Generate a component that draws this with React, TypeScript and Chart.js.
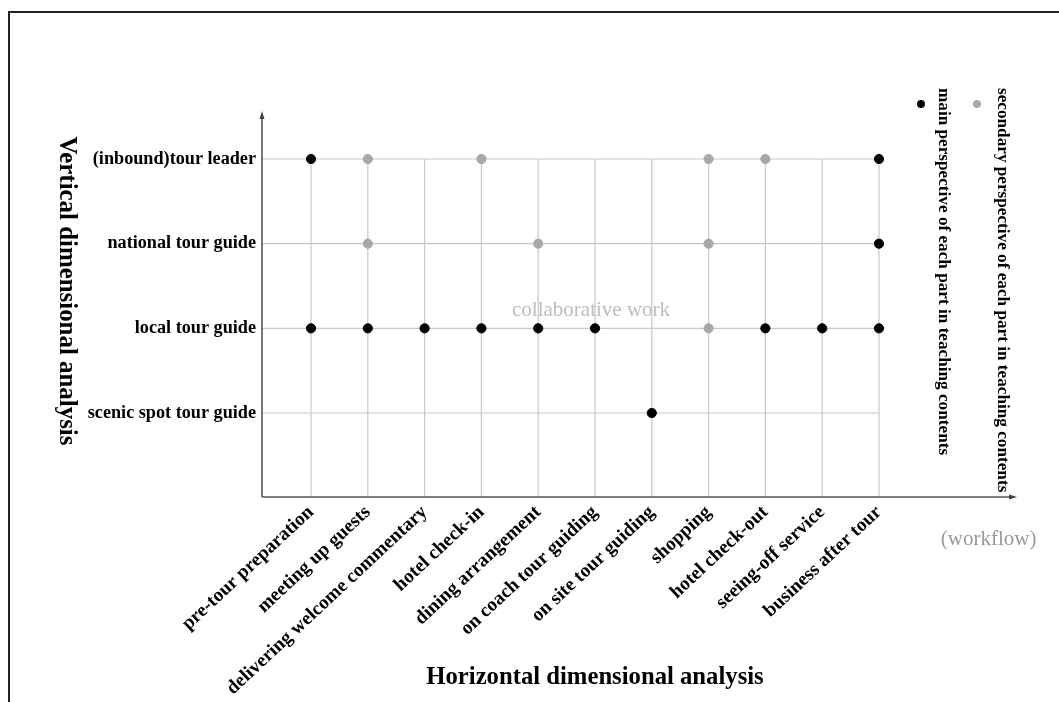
import React, { useEffect, useRef } from 'react';
import { Chart, registerables } from 'chart.js';

Chart.register(...registerables);

const SERIF = '"Liberation Serif", "Times New Roman", serif';

// Horizontal dimension (workflow stages), index 0..10
const stages = [
  'pre-tour preparation',
  'meeting up guests',
  'delivering welcome commentary',
  'hotel check-in',
  'dining arrangement',
  'on coach tour guiding',
  'on site tour guiding',
  'shopping',
  'hotel check-out',
  'seeing-off service',
  'business after tour',
];

// Vertical dimension (roles), index 0 = bottom row
const roles = [
  'scenic spot tour guide',
  'local tour guide',
  'national tour guide',
  '(inbound)tour leader',
];

// Stage indices per role: main (black) and secondary (gray) perspectives
const tourLeaderMain = [0, 10];
const tourLeaderSecondary = [1, 3, 7, 8];
const nationalMain = [10];
const nationalSecondary = [1, 4, 7];
const localMain = [0, 1, 2, 3, 4, 5, 8, 9, 10];
const localSecondary = [7];
const scenicMain = [6];
const scenicSecondary: number[] = [];

const xTitle = 'Horizontal dimensional analysis';
const yTitle = 'Vertical dimensional analysis';
const xUnit = '(workflow)';
const centerNote = 'collaborative work';
const mainLabel = 'main perspective of each part in teaching contents';
const secondaryLabel = 'secondary perspective of each part in teaching contents';

const MAIN_COLOR = '#000000';
const SECONDARY_COLOR = '#a8a8a8';

function toPoints(stageIdx: number[], roleIdx: number) {
  return stageIdx.map((s) => ({ x: s, y: roleIdx }));
}

const mainPoints = [
  ...toPoints(scenicMain, 0),
  ...toPoints(localMain, 1),
  ...toPoints(nationalMain, 2),
  ...toPoints(tourLeaderMain, 3),
];
const secondaryPoints = [
  ...toPoints(scenicSecondary, 0),
  ...toPoints(localSecondary, 1),
  ...toPoints(nationalSecondary, 2),
  ...toPoints(tourLeaderSecondary, 3),
];

const overlayPlugin = {
  id: 'overlay',
  beforeDatasetsDraw(chart: any) {
    const { ctx, chartArea } = chart;
    const xs = chart.scales.x;
    const ys = chart.scales.y;
    const line = (x1: number, y1: number, x2: number, y2: number) => {
      ctx.beginPath();
      ctx.moveTo(x1, y1);
      ctx.lineTo(x2, y2);
      ctx.stroke();
    };
    ctx.save();
    // grid restricted to the stage/role lattice
    ctx.strokeStyle = '#c8c8c8';
    ctx.lineWidth = 1.2;
    const xEnd = xs.getPixelForValue(stages.length - 1);
    const yTop = ys.getPixelForValue(roles.length - 1);
    roles.forEach((_, i) => {
      const py = ys.getPixelForValue(i);
      line(chartArea.left, py, xEnd, py);
    });
    stages.forEach((_, i) => {
      const px = xs.getPixelForValue(i);
      line(px, yTop, px, chartArea.bottom);
    });
    // axes with arrows
    ctx.strokeStyle = '#555555';
    ctx.fillStyle = '#444444';
    ctx.lineWidth = 1.6;
    const L = chartArea.left;
    const B = chartArea.bottom;
    const T = chartArea.top;
    const R = chartArea.right;
    line(L, B, L, T + 5);
    line(L, B, R - 5, B);
    ctx.beginPath();
    ctx.moveTo(L, T);
    ctx.lineTo(L - 2.5, T + 8);
    ctx.lineTo(L + 2.5, T + 8);
    ctx.closePath();
    ctx.fill();
    ctx.beginPath();
    ctx.moveTo(R, B);
    ctx.lineTo(R - 8, B - 2.5);
    ctx.lineTo(R - 8, B + 2.5);
    ctx.closePath();
    ctx.fill();
    // center note
    ctx.fillStyle = '#bdbdbd';
    ctx.font = `21px ${SERIF}`;
    ctx.textAlign = 'center';
    ctx.textBaseline = 'alphabetic';
    ctx.fillText(centerNote, xs.getPixelForValue(4.93), ys.getPixelForValue(1) - 12);
    ctx.restore();
  },
  afterDraw(chart: any) {
    const { ctx, chartArea, width, height } = chart;
    const xs = chart.scales.x;
    ctx.save();
    // frame
    ctx.strokeStyle = '#222222';
    ctx.lineWidth = 2;
    ctx.beginPath();
    ctx.moveTo(9, height);
    ctx.lineTo(9, 12);
    ctx.lineTo(width, 12);
    ctx.stroke();
    // unit
    ctx.fillStyle = '#999999';
    ctx.font = `21px ${SERIF}`;
    ctx.textAlign = 'center';
    ctx.textBaseline = 'alphabetic';
    ctx.fillText(xUnit, xs.getPixelForValue(11.93), chartArea.bottom + 48);
    // x title
    ctx.fillStyle = '#000000';
    ctx.font = `bold 24.7px ${SERIF}`;
    ctx.textBaseline = 'middle';
    ctx.fillText(xTitle, xs.getPixelForValue(5), 678);
    // y title (rotated, reads top to bottom)
    ctx.save();
    ctx.font = `bold 24.9px ${SERIF}`;
    ctx.translate(66, 291);
    ctx.rotate(Math.PI / 2);
    ctx.textAlign = 'center';
    ctx.fillText(yTitle, 0, 0);
    ctx.restore();
    // legend
    ctx.font = `bold 17.2px ${SERIF}`;
    const entries = [
      { label: mainLabel, color: MAIN_COLOR, dotX: 921, textX: 943 },
      { label: secondaryLabel, color: SECONDARY_COLOR, dotX: 977, textX: 1002 },
    ];
    entries.forEach((e) => {
      ctx.fillStyle = e.color;
      ctx.beginPath();
      ctx.arc(e.dotX, 104, 4, 0, Math.PI * 2);
      ctx.fill();
      ctx.save();
      ctx.translate(e.textX, 88);
      ctx.rotate(Math.PI / 2);
      ctx.fillStyle = '#000000';
      ctx.textAlign = 'left';
      ctx.textBaseline = 'middle';
      ctx.fillText(e.label, 0, 0);
      ctx.restore();
    });
    ctx.restore();
  },
};

export default function App() {
  const canvasRef = useRef<HTMLCanvasElement | null>(null);

  useEffect(() => {
    if (!canvasRef.current) return;
    const chart = new Chart(canvasRef.current, {
      type: 'scatter',
      data: {
        datasets: [
          {
            label: secondaryLabel,
            data: secondaryPoints,
            backgroundColor: SECONDARY_COLOR,
            borderColor: SECONDARY_COLOR,
            pointRadius: 4.6,
            pointHoverRadius: 4.6,
          },
          {
            label: mainLabel,
            data: mainPoints,
            backgroundColor: MAIN_COLOR,
            borderColor: MAIN_COLOR,
            pointRadius: 4.6,
            pointHoverRadius: 4.6,
          },
        ],
      },
      options: {
        animation: false,
        responsive: true,
        maintainAspectRatio: false,
        layout: { padding: { top: 111, right: 42, left: 0, bottom: 0 } },
        plugins: {
          legend: { display: false },
          tooltip: { enabled: false },
        },
        scales: {
          x: {
            type: 'linear',
            min: -0.863,
            max: 12.43,
            grid: { display: false, drawTicks: false },
            border: { display: false },
            afterBuildTicks: (scale: any) => {
              scale.ticks = stages.map((_, i) => ({ value: i }));
            },
            afterFit: (scale: any) => {
              scale.height = 205;
            },
            ticks: {
              autoSkip: false,
              minRotation: 43,
              maxRotation: 43,
              padding: 4,
              color: '#000000',
              font: { family: SERIF, size: 19.3, weight: 'bold' },
              callback: (v: any) => stages[v as number] ?? '',
            },
          },
          y: {
            type: 'linear',
            min: -0.992,
            max: 3.567,
            grid: { display: false, drawTicks: false },
            border: { display: false },
            afterBuildTicks: (scale: any) => {
              scale.ticks = roles.map((_, i) => ({ value: i }));
            },
            afterFit: (scale: any) => {
              scale.width = 262;
            },
            ticks: {
              autoSkip: false,
              padding: 6,
              color: '#000000',
              font: { family: SERIF, size: 18.2, weight: 'bold' },
              callback: (v: any) => roles[v as number] ?? '',
            },
          },
        },
      },
      plugins: [overlayPlugin],
    });
    return () => chart.destroy();
  }, []);

  return (
    <div style={{ position: 'absolute', left: 0, top: 0, width: 1059, height: 702, background: '#ffffff' }}>
      <canvas ref={canvasRef} />
    </div>
  );
}
